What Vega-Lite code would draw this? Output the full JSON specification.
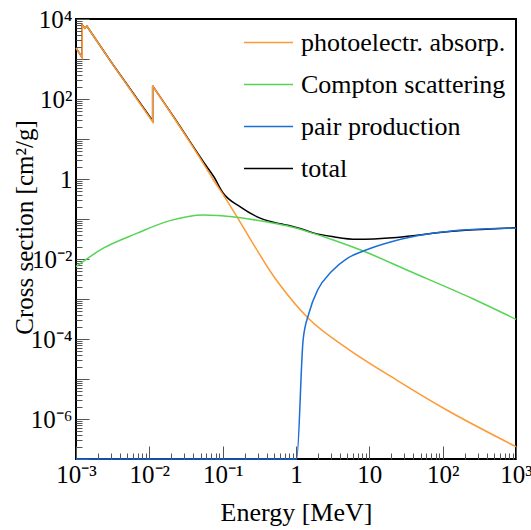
{
  "$schema": "https://vega.github.io/schema/vega-lite/v6.json",
  "width": 440,
  "height": 440,
  "autosize": {"type": "none"},
  "padding": {"left": 76, "top": 19, "right": 15, "bottom": 71},
  "config": {
    "font": "Liberation Serif",
    "view": {"stroke": "black", "strokeWidth": 2},
    "axis": {"grid": false, "domain": false, "labelFont": "Liberation Serif", "titleFont": "Liberation Serif", "labelFontSize": 25, "titleFontSize": 25, "titleFontWeight": "normal", "labelColor": "black", "titleColor": "black", "tickColor": "#555555", "tickWidth": 1, "labelOverlap": false, "labelFlush": false, "labelBound": false},
    "legend": {"labelFont": "Liberation Serif", "labelFontSize": 26, "labelColor": "black", "labelLimit": 400}
  },
  "data": {"values": [
    {"c": "photoelectr. absorp.", "i": 1, "E": 0.001, "s": 1884},
    {"c": "photoelectr. absorp.", "i": 2, "E": 0.001217, "s": 1075},
    {"c": "photoelectr. absorp.", "i": 3, "E": 0.001217, "s": 7080},
    {"c": "photoelectr. absorp.", "i": 4, "E": 0.00132, "s": 5860},
    {"c": "photoelectr. absorp.", "i": 5, "E": 0.00141, "s": 6580},
    {"c": "photoelectr. absorp.", "i": 6, "E": 0.003, "s": 850},
    {"c": "photoelectr. absorp.", "i": 7, "E": 0.0111, "s": 27},
    {"c": "photoelectr. absorp.", "i": 8, "E": 0.0111, "s": 211},
    {"c": "photoelectr. absorp.", "i": 9, "E": 0.0212, "s": 36},
    {"c": "photoelectr. absorp.", "i": 10, "E": 0.0605, "s": 1.8},
    {"c": "photoelectr. absorp.", "i": 11, "E": 0.075, "s": 0.944},
    {"c": "photoelectr. absorp.", "i": 12, "E": 0.102, "s": 0.40},
    {"c": "photoelectr. absorp.", "i": 13, "E": 0.156, "s": 0.115},
    {"c": "photoelectr. absorp.", "i": 14, "E": 0.224, "s": 0.038},
    {"c": "photoelectr. absorp.", "i": 15, "E": 0.518, "s": 0.0033},
    {"c": "photoelectr. absorp.", "i": 16, "E": 0.605, "s": 0.00224},
    {"c": "photoelectr. absorp.", "i": 17, "E": 1.47, "s": 0.00033},
    {"c": "photoelectr. absorp.", "i": 18, "E": 4.92, "s": 0.000059},
    {"c": "photoelectr. absorp.", "i": 19, "E": 23.6, "s": 0.0000094},
    {"c": "photoelectr. absorp.", "i": 20, "E": 113.5, "s": 0.00000168},
    {"c": "photoelectr. absorp.", "i": 21, "E": 1000, "s": 0.000000204},
    {"c": "Compton scattering", "i": 1, "E": 0.001, "s": 0.00646},
    {"c": "Compton scattering", "i": 2, "E": 0.00236, "s": 0.0186},
    {"c": "Compton scattering", "i": 3, "E": 0.00673, "s": 0.0437},
    {"c": "Compton scattering", "i": 4, "E": 0.0191, "s": 0.0912},
    {"c": "Compton scattering", "i": 5, "E": 0.0545, "s": 0.126},
    {"c": "Compton scattering", "i": 6, "E": 0.156, "s": 0.110},
    {"c": "Compton scattering", "i": 7, "E": 0.443, "s": 0.0813},
    {"c": "Compton scattering", "i": 8, "E": 0.828, "s": 0.0646},
    {"c": "Compton scattering", "i": 9, "E": 1.72, "s": 0.0437},
    {"c": "Compton scattering", "i": 10, "E": 3.23, "s": 0.0299},
    {"c": "Compton scattering", "i": 11, "E": 8.28, "s": 0.0158},
    {"c": "Compton scattering", "i": 12, "E": 32.4, "s": 0.00531},
    {"c": "Compton scattering", "i": 13, "E": 262, "s": 0.001},
    {"c": "Compton scattering", "i": 14, "E": 1000, "s": 0.00031},
    {"c": "pair production", "i": 1, "E": 0.001, "s": 0.0000001},
    {"c": "pair production", "i": 2, "E": 1.022, "s": 0.0000001},
    {"c": "pair production", "i": 3, "E": 1.25, "s": 0.000094},
    {"c": "pair production", "i": 4, "E": 1.5, "s": 0.00044},
    {"c": "pair production", "i": 5, "E": 2.0, "s": 0.00175},
    {"c": "pair production", "i": 6, "E": 3.0, "s": 0.0047},
    {"c": "pair production", "i": 7, "E": 5.0, "s": 0.0104},
    {"c": "pair production", "i": 8, "E": 8.28, "s": 0.0158},
    {"c": "pair production", "i": 9, "E": 20, "s": 0.027},
    {"c": "pair production", "i": 10, "E": 39.8, "s": 0.0363},
    {"c": "pair production", "i": 11, "E": 100, "s": 0.047},
    {"c": "pair production", "i": 12, "E": 191, "s": 0.053},
    {"c": "pair production", "i": 13, "E": 1000, "s": 0.059},
    {"c": "total", "i": 1, "E": 0.001, "s": 1893},
    {"c": "total", "i": 2, "E": 0.001217, "s": 1080},
    {"c": "total", "i": 3, "E": 0.001217, "s": 7090},
    {"c": "total", "i": 4, "E": 0.00132, "s": 5870},
    {"c": "total", "i": 5, "E": 0.00141, "s": 6590},
    {"c": "total", "i": 6, "E": 0.003, "s": 855},
    {"c": "total", "i": 7, "E": 0.0111, "s": 28.5},
    {"c": "total", "i": 8, "E": 0.0111, "s": 213},
    {"c": "total", "i": 9, "E": 0.0212, "s": 37},
    {"c": "total", "i": 10, "E": 0.0605, "s": 2.05},
    {"c": "total", "i": 11, "E": 0.075, "s": 1.17},
    {"c": "total", "i": 12, "E": 0.102, "s": 0.44},
    {"c": "total", "i": 13, "E": 0.172, "s": 0.204},
    {"c": "total", "i": 14, "E": 0.291, "s": 0.115},
    {"c": "total", "i": 15, "E": 0.491, "s": 0.083},
    {"c": "total", "i": 16, "E": 0.605, "s": 0.076},
    {"c": "total", "i": 17, "E": 0.828, "s": 0.068},
    {"c": "total", "i": 18, "E": 1.135, "s": 0.058},
    {"c": "total", "i": 19, "E": 1.72, "s": 0.045},
    {"c": "total", "i": 20, "E": 3.23, "s": 0.036},
    {"c": "total", "i": 21, "E": 6.71, "s": 0.031},
    {"c": "total", "i": 22, "E": 23.6, "s": 0.0347},
    {"c": "total", "i": 23, "E": 113.5, "s": 0.0479},
    {"c": "total", "i": 24, "E": 1000, "s": 0.0603}
  ]},
  "encoding": {
    "x": {"field": "E", "type": "quantitative",
      "scale": {"type": "log", "domain": [0.001, 1000], "nice": false},
      "axis": {
        "title": "Energy [MeV]", "titleFontSize": 26, "titleX": 220, "titleY": 61, "titleBaseline": "alphabetic", "titleAnchor": "middle", "titleAlign": "center",
        "values": [0.001,0.002,0.003,0.004,0.005,0.006,0.007,0.008,0.009,0.01,0.02,0.03,0.04,0.05,0.06,0.07,0.08,0.09,0.1,0.2,0.3,0.4,0.5,0.6,0.7,0.8,0.9,1,2,3,4,5,6,7,8,9,10,20,30,40,50,60,70,80,90,100,200,300,400,500,600,700,800,900,1000],
        "tickSize": {"condition": {"test": "abs(log(datum.value)/LN10 - round(log(datum.value)/LN10)) < 0.001", "value": -13}, "value": -6},
        "labelPadding": 16,
        "labelBaseline": "top",
        "labelExpr": "abs(log(datum.value)/LN10 - round(log(datum.value)/LN10)) < 0.001 ? (round(log(datum.value)/LN10) == 0 ? '1' : round(log(datum.value)/LN10) == 1 ? '10' : '10' + (round(log(datum.value)/LN10) < 0 ? '⁻' : '') + ['⁰','¹','²','³','⁴','⁵','⁶','⁷','⁸','⁹'][abs(round(log(datum.value)/LN10))]) : ''"
      }},
    "y": {"field": "s", "type": "quantitative",
      "scale": {"type": "log", "domain": [0.0000001, 10000], "nice": false},
      "axis": {
        "title": "Cross section [cm²/g]", "titleX": -44, "titleY": 208, "titleBaseline": "alphabetic", "titleAngle": -90, "titleAlign": "center",
        "values": [1e-7,2e-7,3e-7,4e-7,5e-7,6e-7,7e-7,8e-7,9e-7,1e-6,2e-6,3e-6,4e-6,5e-6,6e-6,7e-6,8e-6,9e-6,1e-5,2e-5,3e-5,4e-5,5e-5,6e-5,7e-5,8e-5,9e-5,1e-4,2e-4,3e-4,4e-4,5e-4,6e-4,7e-4,8e-4,9e-4,0.001,0.002,0.003,0.004,0.005,0.006,0.007,0.008,0.009,0.01,0.02,0.03,0.04,0.05,0.06,0.07,0.08,0.09,0.1,0.2,0.3,0.4,0.5,0.6,0.7,0.8,0.9,1,2,3,4,5,6,7,8,9,10,20,30,40,50,60,70,80,90,100,200,300,400,500,600,700,800,900,1000,2000,3000,4000,5000,6000,7000,8000,9000,10000],
        "tickSize": {"condition": {"test": "abs(log(datum.value)/LN10 - round(log(datum.value)/LN10)) < 0.001", "value": -13}, "value": -6},
        "labelPadding": 17,
        "labelBaseline": "middle",
        "labelExpr": "abs(log(datum.value)/LN10 - round(log(datum.value)/LN10)) < 0.001 && round(log(datum.value)/LN10) % 2 == 0 ? (round(log(datum.value)/LN10) == 0 ? '1' : '10' + (round(log(datum.value)/LN10) < 0 ? '⁻' : '') + ['⁰','¹','²','³','⁴','⁵','⁶','⁷','⁸','⁹'][abs(round(log(datum.value)/LN10))]) : ''"
      }},
    "color": {"field": "c", "type": "nominal",
      "scale": {"domain": ["photoelectr. absorp.", "Compton scattering", "pair production", "total"], "range": ["#ff9933", "#55d455", "#1a6ed8", "#000000"]},
      "legend": {"title": null, "orient": "none", "legendX": 167, "legendY": -2, "symbolType": "stroke", "symbolSize": 2401, "symbolStrokeWidth": 1.5, "labelOffset": 7, "rowPadding": 3, "padding": 0}},
    "order": {"field": "i", "type": "quantitative"}
  },
  "layer": [
    {"transform": [{"filter": "datum.c == 'total' && datum.i <= 8"}], "mark": {"type": "line", "strokeWidth": 1.5}},
    {"transform": [{"filter": "datum.c == 'total' && datum.i >= 8"}], "mark": {"type": "line", "strokeWidth": 1.5, "interpolate": "monotone"}},
    {"transform": [{"filter": "datum.c == 'photoelectr. absorp.' && datum.i <= 8"}], "mark": {"type": "line", "strokeWidth": 1.5}},
    {"transform": [{"filter": "datum.c == 'photoelectr. absorp.' && datum.i >= 8"}], "mark": {"type": "line", "strokeWidth": 1.5, "interpolate": "monotone"}},
    {"transform": [{"filter": "datum.c == 'Compton scattering' || datum.c == 'pair production'"}], "mark": {"type": "line", "strokeWidth": 1.5, "interpolate": "monotone"}}
  ]
}
